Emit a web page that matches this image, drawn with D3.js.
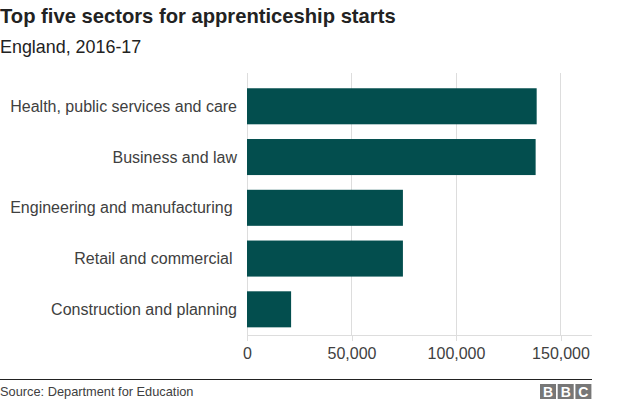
<!DOCTYPE html>
<html>
<head>
<meta charset="utf-8">
<script src="https://cdn.jsdelivr.net/npm/d3@7"></script>
<style>
  html, body { margin: 0; padding: 0; background: #fff; }
  svg text { font-family: "Liberation Sans", Arial, Helvetica, sans-serif; }
</style>
</head>
<body>
<svg id="chart" width="624" height="403"></svg>
<script>
const categories = [
  "Health, public services and care",
  "Business and law",
  "Engineering and manufacturing\u00a0",
  "Retail and commercial\u00a0",
  "Construction and planning"
];
const values = [138600, 138100, 74600, 74600, 21100];
const tickValues = [0, 50000, 100000, 150000];
const titleText = "Top five sectors for apprenticeship starts";
const subtitleText = "England, 2016-17";
const sourceText = "Source: Department for Education";

const svg = d3.select("#chart");
const barColor = "#034e4e";
const gridColor = "#dddddd";
const textColor = "#404040";

const x = d3.scaleLinear().domain([0, 150000]).range([247, 560.5]);
const y = d3.scaleBand().domain(categories).range([80.9, 334.7]).paddingInner(0.29).paddingOuter(0.145);

// title
svg.append("text").attr("x", 0).attr("y", 23).attr("font-size", 20.2).attr("font-weight", "bold")
  .attr("fill", "#222").text(titleText);
svg.append("text").attr("x", 0).attr("y", 52.5).attr("font-size", 17.9)
  .attr("fill", "#222").text(subtitleText);

// gridlines
svg.append("g").selectAll("line").data(tickValues).join("line")
  .attr("x1", d => x(d)).attr("x2", d => x(d))
  .attr("y1", 73).attr("y2", 335)
  .attr("stroke", gridColor).attr("stroke-width", 1).attr("shape-rendering", "crispEdges");

// bars
svg.append("g").selectAll("rect").data(values).join("rect")
  .attr("x", x(0))
  .attr("y", (d, i) => y(categories[i]))
  .attr("width", d => x(d) - x(0))
  .attr("height", y.bandwidth())
  .attr("fill", barColor);

// x axis
const xAxis = d3.axisBottom(x).tickValues(tickValues).tickSize(6).tickPadding(7)
  .tickFormat(d3.format(","));
const gx = svg.append("g").attr("transform", "translate(0,335)").call(xAxis);
gx.select(".domain").remove();
gx.selectAll(".tick line").attr("stroke", gridColor).attr("shape-rendering", "crispEdges");
gx.selectAll(".tick text").attr("font-size", 16).attr("fill", textColor)
  .attr("font-family", "Liberation Sans, Arial, sans-serif");
gx.append("line").attr("x1", x(0)).attr("x2", 592).attr("y1", 0).attr("y2", 0)
  .attr("stroke", gridColor).attr("shape-rendering", "crispEdges");

// y labels
svg.append("g").selectAll("text").data(categories).join("text")
  .attr("x", 237)
  .attr("y", d => y(d) + y.bandwidth() / 2)
  .attr("dy", "0.35em")
  .attr("text-anchor", "end")
  .attr("font-size", 16)
  .attr("fill", textColor)
  .style("white-space", "pre")
  .text(d => d);

// footer
svg.append("line").attr("x1", 0).attr("x2", 592).attr("y1", 379.5).attr("y2", 379.5)
  .attr("stroke", "#222").attr("stroke-width", 1);
svg.append("text").attr("x", 0).attr("y", 396).attr("font-size", 12.8)
  .attr("fill", textColor).text(sourceText);

const bbc = svg.append("g");
["B", "B", "C"].forEach((ch, i) => {
  const bx = 540 + i * 17.7;
  bbc.append("rect").attr("x", bx).attr("y", 384).attr("width", 16).attr("height", 15).attr("fill", "#777");
  bbc.append("text").attr("x", bx + 8).attr("y", 397).attr("text-anchor", "middle")
    .attr("font-size", 14).attr("font-weight", "bold").attr("fill", "#fff").text(ch);
});
</script>
</body>
</html>
